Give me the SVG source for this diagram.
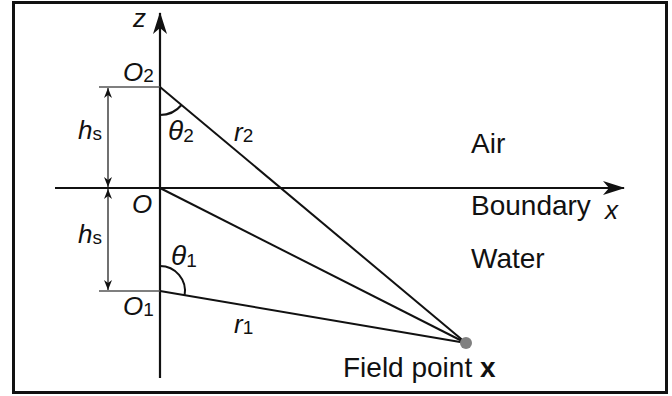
<svg xmlns="http://www.w3.org/2000/svg" width="672" height="396" viewBox="0 0 672 396">
<style>
text{font-family:"Liberation Sans",Arial,sans-serif;fill:#111}
.it{font-style:italic;font-size:26px}
.th{font-style:italic;font-size:28px}
.sub{font-style:normal;font-size:19px}
.lbl{font-size:28px}
.ax{stroke:#111;stroke-width:2.2;fill:none}
.ln{stroke:#111;stroke-width:2;fill:none}
.ref{stroke:#555;stroke-width:1.6;fill:none}
.dim{stroke:#111;stroke-width:1.2;fill:none}
</style>
<defs>
<marker id="axh" viewBox="0 0 22 14" refX="21" refY="7" markerWidth="22" markerHeight="14" markerUnits="userSpaceOnUse" orient="auto">
<path d="M0,0 L22,7 L0,14 L6,7 z" fill="#111"/>
</marker>
<marker id="dh" viewBox="0 0 10 8" refX="10" refY="4" markerWidth="10" markerHeight="8" markerUnits="userSpaceOnUse" orient="auto">
<path d="M0,0 L10,4 L0,8 L3,4 z" fill="#111"/>
</marker>
</defs>
<rect x="13.5" y="2.5" width="653" height="390" fill="#fff" stroke="#111" stroke-width="3"/>
<g id="connectors">
<line class="ax" x1="160" y1="378" x2="160" y2="13" marker-end="url(#axh)"/>
<line class="ax" x1="55" y1="188" x2="624" y2="188" marker-end="url(#axh)"/>
<line class="ref" x1="99" y1="87" x2="160" y2="87"/>
<line class="ref" x1="99" y1="291" x2="160" y2="291"/>
<line class="dim" x1="108" y1="137" x2="108" y2="88" marker-end="url(#dh)"/>
<line class="dim" x1="108" y1="137" x2="108" y2="187" marker-end="url(#dh)"/>
<line class="dim" x1="108" y1="240" x2="108" y2="189" marker-end="url(#dh)"/>
<line class="dim" x1="108" y1="240" x2="108" y2="290" marker-end="url(#dh)"/>
<line class="ln" x1="160" y1="87" x2="466" y2="343"/>
<line class="ln" x1="160" y1="188" x2="466" y2="343"/>
<line class="ln" x1="160" y1="291" x2="466" y2="343"/>
<path class="ln" d="M160,115 A28,28 0 0 0 181.5,105"/>
<path class="ln" d="M160,266 A25,25 0 0 1 184.6,295.2"/>
</g>
<g id="field-point">
<circle cx="466" cy="343" r="6" fill="#808080"/>
<text class="lbl" x="343" y="377" font-size="27.5">Field point <tspan font-weight="bold">x</tspan></text>
</g>
<g id="labels">
<text class="it" x="133" y="27">z</text>
<text class="it" x="605" y="219">x</text>
<text class="it" x="123" y="81">O<tspan class="sub" dy="1">2</tspan></text>
<text class="it" x="132" y="213">O</text>
<text class="it" x="123" y="315">O<tspan class="sub" dy="1">1</tspan></text>
<text class="it" x="78" y="139">h<tspan class="sub" dy="1">s</tspan></text>
<text class="it" x="78" y="243">h<tspan class="sub" dy="1">s</tspan></text>
<text class="th" x="168" y="140">θ<tspan class="sub" dy="2">2</tspan></text>
<text class="th" x="171" y="265">θ<tspan class="sub" dy="2">1</tspan></text>
<text class="it" x="234" y="141">r<tspan class="sub" dy="1">2</tspan></text>
<text class="it" x="234" y="333">r<tspan class="sub" dy="1">1</tspan></text>
</g>
<g id="regions">
<text class="lbl" x="471" y="153">Air</text>
<text class="lbl" x="471" y="215">Boundary</text>
<text class="lbl" x="471" y="268">Water</text>
</g>
</svg>
